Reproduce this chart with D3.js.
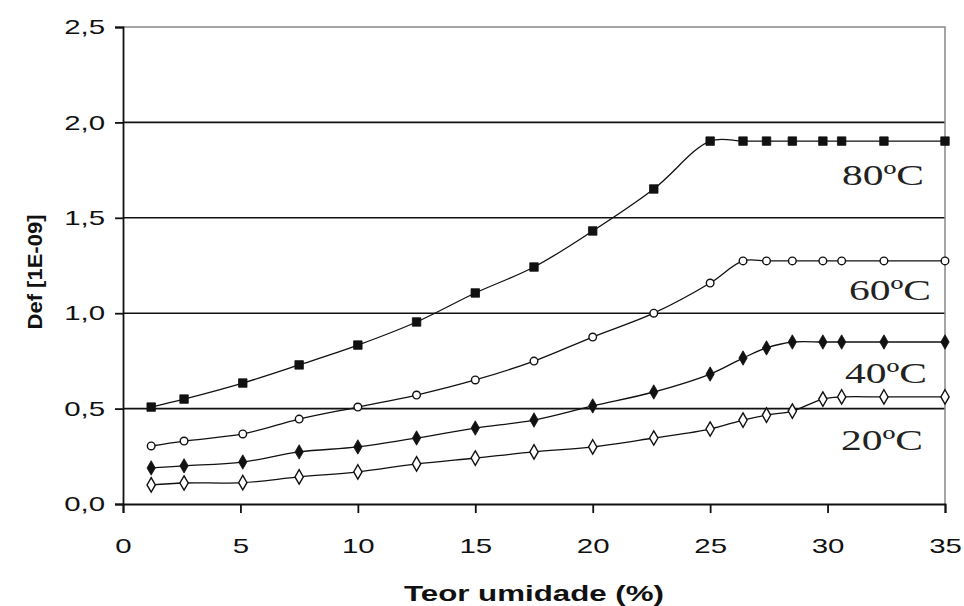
<!DOCTYPE html>
<html>
<head>
<meta charset="utf-8">
<script src="https://cdn.jsdelivr.net/npm/d3@7"></script>
<style>
  html, body { margin: 0; padding: 0; background: #fff; }
  svg { display: block; }
</style>
</head>
<body>
<svg id="chart" width="964" height="606"></svg>
<script>
// Moisture content (%) shared by all four temperature series
const moisture = [1.2, 2.6, 5.1, 7.5, 10, 12.5, 15, 17.5, 20, 22.6, 25, 26.4, 27.4, 28.5, 29.8, 30.6, 32.4, 35];

// Effective diffusivity, Def [1E-09]
const def80 = [0.508, 0.55, 0.634, 0.729, 0.833, 0.954, 1.106, 1.242, 1.431, 1.651, 1.902, 1.902, 1.902, 1.902, 1.902, 1.902, 1.902, 1.902];
const def60 = [0.304, 0.33, 0.367, 0.445, 0.508, 0.571, 0.65, 0.749, 0.875, 1.0, 1.158, 1.274, 1.274, 1.274, 1.274, 1.274, 1.274, 1.274];
const def40 = [0.189, 0.2, 0.22, 0.273, 0.299, 0.346, 0.398, 0.44, 0.514, 0.587, 0.681, 0.765, 0.818, 0.849, 0.849, 0.849, 0.849, 0.849];
const def20 = [0.1, 0.11, 0.112, 0.142, 0.168, 0.21, 0.241, 0.273, 0.299, 0.346, 0.393, 0.44, 0.466, 0.487, 0.55, 0.561, 0.561, 0.561];

const seriesNames = ["80ºC", "60ºC", "40ºC", "20ºC"];
const xTicks = [0, 5, 10, 15, 20, 25, 30, 35];
const yTicks = [0, 0.5, 1.0, 1.5, 2.0, 2.5];
const xTitle = "Teor umidade (%)";
const yTitle = "Def [1E-09]";

const svg = d3.select("#chart");
const margin = { left: 123, right: 19, top: 27, bottom: 102 };
const W = 964, H = 606;
const x = d3.scaleLinear().domain([0, 35]).range([margin.left, W - margin.right]);
const y = d3.scaleLinear().domain([0, 2.5]).range([H - margin.bottom, margin.top]);

const fmt = d => d3.format(".1f")(d).replace(".", ",");
const SANS = "'Liberation Sans', Arial, sans-serif";

// Widen glyphs horizontally by a factor, keeping the text anchor in place
function widen(sel, k) {
  sel.each(function () {
    const len = this.getComputedTextLength();
    d3.select(this).attr("textLength", len * k).attr("lengthAdjust", "spacingAndGlyphs");
  });
}

// Horizontal gridlines
svg.append("g")
  .selectAll("line")
  .data(yTicks.filter(t => t > 0 && t < 2.5))
  .join("line")
  .attr("x1", x(0)).attr("x2", x(35))
  .attr("y1", d => y(d)).attr("y2", d => y(d))
  .attr("stroke", "#111").attr("stroke-width", 1.6);

// Top and right frame (grey)
svg.append("path")
  .attr("d", `M${x(0)},${y(2.5)}H${x(35)}V${y(0)}`)
  .attr("fill", "none").attr("stroke", "#888").attr("stroke-width", 1.5);

// Y axis
const yAxis = svg.append("g")
  .attr("transform", `translate(${x(0)},0)`)
  .call(d3.axisLeft(y).tickValues(yTicks).tickFormat(fmt).tickSize(8).tickPadding(10));
// X axis
const xAxis = svg.append("g")
  .attr("transform", `translate(0,${y(0)})`)
  .call(d3.axisBottom(x).tickValues(xTicks).tickSize(9).tickPadding(25));

[yAxis, xAxis].forEach(g => {
  g.select(".domain").attr("stroke", "#111").attr("stroke-width", 1.8);
  g.selectAll(".tick line").attr("stroke", "#111").attr("stroke-width", 1.8);
  g.selectAll(".tick text")
    .attr("fill", "#111")
    .style("font-family", SANS)
    .style("font-size", "21px")
    .call(widen, 1.4);
});

// Axis titles
svg.append("text")
  .attr("x", 534).attr("y", 601)
  .attr("text-anchor", "middle")
  .attr("textLength", 260).attr("lengthAdjust", "spacingAndGlyphs")
  .style("font-family", SANS)
  .style("font-weight", "bold").style("font-size", "22px")
  .attr("fill", "#111")
  .text(xTitle);

svg.append("text")
  .attr("transform", "translate(42,272) rotate(-90)")
  .attr("text-anchor", "middle")
  .attr("textLength", 115).attr("lengthAdjust", "spacingAndGlyphs")
  .style("font-family", SANS)
  .style("font-weight", "bold").style("font-size", "21px")
  .attr("fill", "#111")
  .text(yTitle);

// Series
const series = [
  { name: seriesNames[0], values: def80, marker: "square", fill: "#111", label: [842, 185] },
  { name: seriesNames[1], values: def60, marker: "circle", fill: "#fff", label: [849, 300] },
  { name: seriesNames[2], values: def40, marker: "diamond", fill: "#111", label: [845, 383] },
  { name: seriesNames[3], values: def20, marker: "diamond", fill: "#fff", label: [841, 450] }
];

const line = d3.line()
  .x(d => x(d[0])).y(d => y(d[1]))
  .curve(d3.curveCatmullRom.alpha(0.5));

const symbolType = { square: d3.symbolSquare, circle: d3.symbolCircle, diamond: d3.symbolDiamond };
const symbolSize = { square: 72, circle: 46, diamond: 60 };

series.forEach(s => {
  const pts = moisture.map((m, i) => [m, s.values[i]]);
  svg.append("path")
    .attr("d", line(pts))
    .attr("fill", "none").attr("stroke", "#111").attr("stroke-width", 1.3);

  svg.append("g")
    .selectAll("path")
    .data(pts)
    .join("path")
    .attr("transform", d => `translate(${x(d[0])},${y(d[1])})`)
    .attr("d", d3.symbol().type(symbolType[s.marker]).size(symbolSize[s.marker]))
    .attr("fill", s.fill)
    .attr("stroke", "#111").attr("stroke-width", s.fill === "#fff" ? 1.4 : 0.8);

  svg.append("text")
    .attr("x", s.label[0]).attr("y", s.label[1])
    .attr("textLength", 82).attr("lengthAdjust", "spacingAndGlyphs")
    .style("font-family", "'Liberation Serif', 'Times New Roman', serif")
    .style("font-size", "30px")
    .attr("fill", "#222")
    .text(s.name);
});
</script>
</body>
</html>
